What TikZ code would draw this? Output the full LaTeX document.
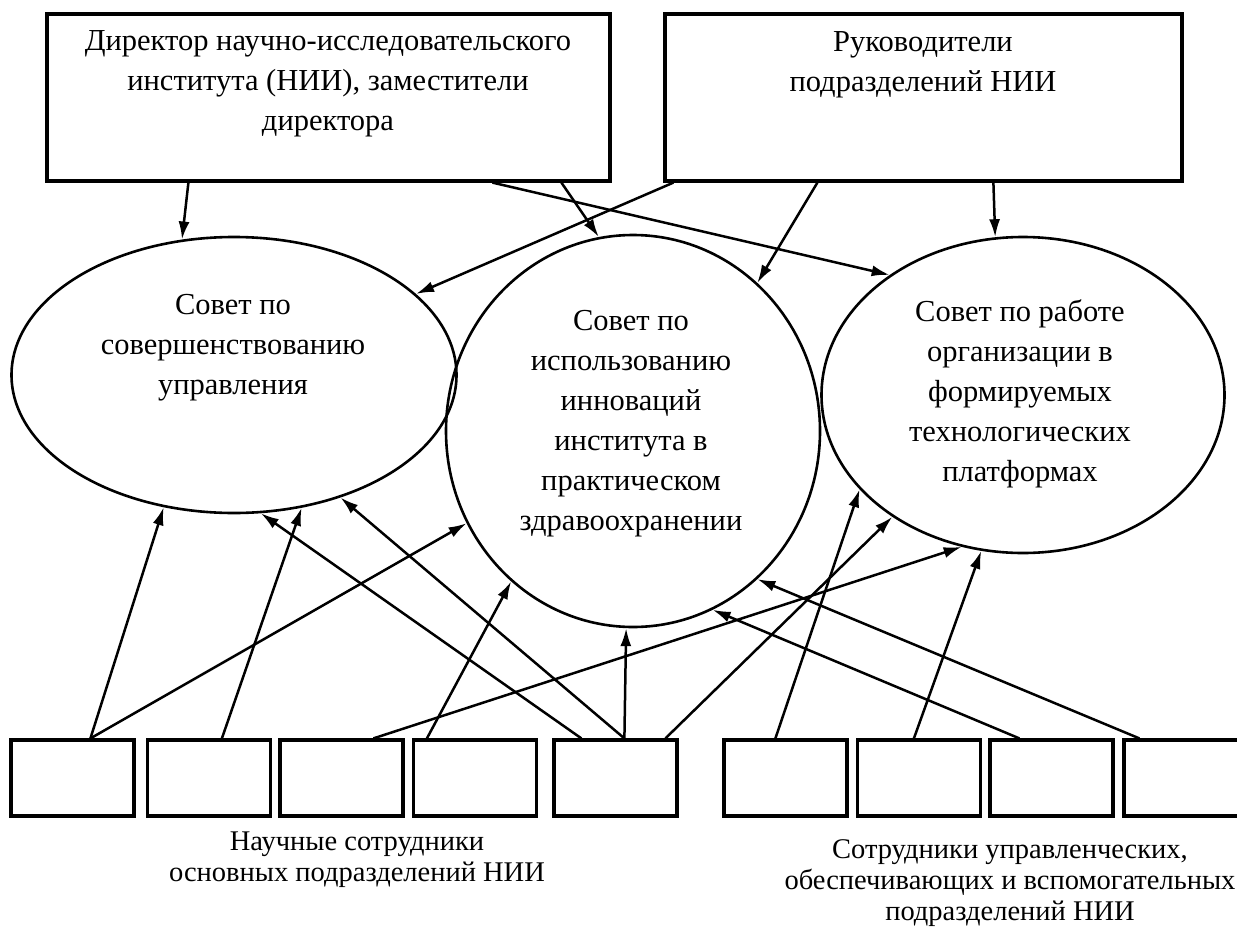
\documentclass[tikz,border=0pt]{standalone}
\usepackage{fontspec}
\setmainfont{Liberation Serif}
\usetikzlibrary{arrows.meta,calc,shapes.geometric}
\begin{document}
\begin{tikzpicture}[x=1pt,y=-1pt,
  box/.style={draw, line width=3.2pt, inner sep=0pt},
  oval/.style={draw, ellipse, line width=2.6pt, inner sep=0pt},
  txt/.style={align=center, font=\fontsize{30.5pt}{40pt}\selectfont, inner sep=0pt},
  lbl/.style={align=center, font=\fontsize{28.5pt}{31pt}\selectfont, inner sep=0pt},
  arr/.style={line width=2.5pt, -{Latex[length=18pt,width=11pt]}},
  sbox/.style={box, minimum width=123pt, minimum height=76pt}
]
\useasboundingbox (0,0) rectangle (1237,929);
\clip (0,0) rectangle (1237,929);

% top boxes
\node[box, minimum width=563pt, minimum height=167pt] (dir) at (328.5,97.5) {};
\node[txt] (dirtext) at (328,84) {Директор научно-исследовательского\\института (НИИ), заместители\\директора};
\node[box, minimum width=517pt, minimum height=167pt] (ruk) at (923.5,97.5) {};
\node[txt] (ruktext) at (923,65) {Руководители\\подразделений НИИ};

% councils
\node[oval, minimum width=445pt, minimum height=276pt] (e1) at (234,375) {};
\node[txt] (e1text) at (233,348) {Совет по\\совершенствованию\\управления};
\node[oval, minimum width=374pt, minimum height=392pt] (e2) at (633,431) {};
\node[txt] (e2text) at (631,424) {Совет по\\использованию\\инноваций\\института в\\практическом\\здравоохранении};
\node[oval, minimum width=403pt, minimum height=316pt] (e3) at (1023,395) {};
\node[txt] (e3text) at (1020,394) {Совет по работе\\организации в\\формируемых\\технологических\\платформах};

% bottom boxes
\node[sbox] (b1) at (72.5,778) {};
\node[sbox] (b2) at (209,778) {};
\node[sbox] (b3) at (341.5,778) {};
\node[sbox] (b4) at (475,778) {};
\node[sbox] (b5) at (615.5,778) {};
\node[sbox] (b6) at (785.5,778) {};
\node[sbox] (b7) at (919,778) {};
\node[sbox] (b8) at (1051.5,778) {};
\node[sbox] (b9) at (1185.5,778) {};

% labels
\node[lbl] (lab1) at (357,860) {Научные сотрудники\\основных подразделений НИИ};
\node[lbl] (lab2) at (1010,883) {Сотрудники управленческих,\\обеспечивающих и вспомогательных\\подразделений НИИ};

% arrows from top
\draw[arr] ($(dir.south west)+(143,0)$) -- (e1.111);
\draw[arr] ($(dir.south west)+(516,0)$) -- (e2.100);
\draw[arr] ($(dir.south west)+(447,0)$) -- (e3.138);
\draw[arr] ($(ruk.south west)+(10,0)$) -- (e1.24);
\draw[arr] ($(ruk.south west)+(154,0)$) -- (e2.50);
\draw[arr] ($(ruk.south west)+(330,0)$) -- (e3.100);

% arrows from bottom
\draw[arr] ($(b1.north west)+(81,0)$) -- (e1.242);
\draw[arr] ($(b1.north west)+(81,0)$) -- (e2.209);
\draw[arr] ($(b2.north west)+(76,0)$) -- (e1.297);
\draw[arr] ($(b3.north west)+(95,0)$) -- (e3.248);
\draw[arr] ($(b4.north west)+(15,0)$) -- (e2.231);
\draw[arr] ($(b5.north west)+(29,0)$) -- (e1.281);
\draw[arr] ($(b5.north west)+(72,0)$) -- (e1.311);
\draw[arr] ($(b5.north west)+(72,0)$) -- (e2.268);
\draw[arr] ($(b5.north west)+(113,0)$) -- (e3.223);
\draw[arr] ($(b6.north west)+(53,0)$) -- (e3.210);
\draw[arr] ($(b7.north west)+(58,0)$) -- (e3.255);
\draw[arr] ($(b8.north west)+(31,0)$) -- (e2.294);
\draw[arr] ($(b9.north west)+(17,0)$) -- (e2.310);
\end{tikzpicture}
\end{document}
